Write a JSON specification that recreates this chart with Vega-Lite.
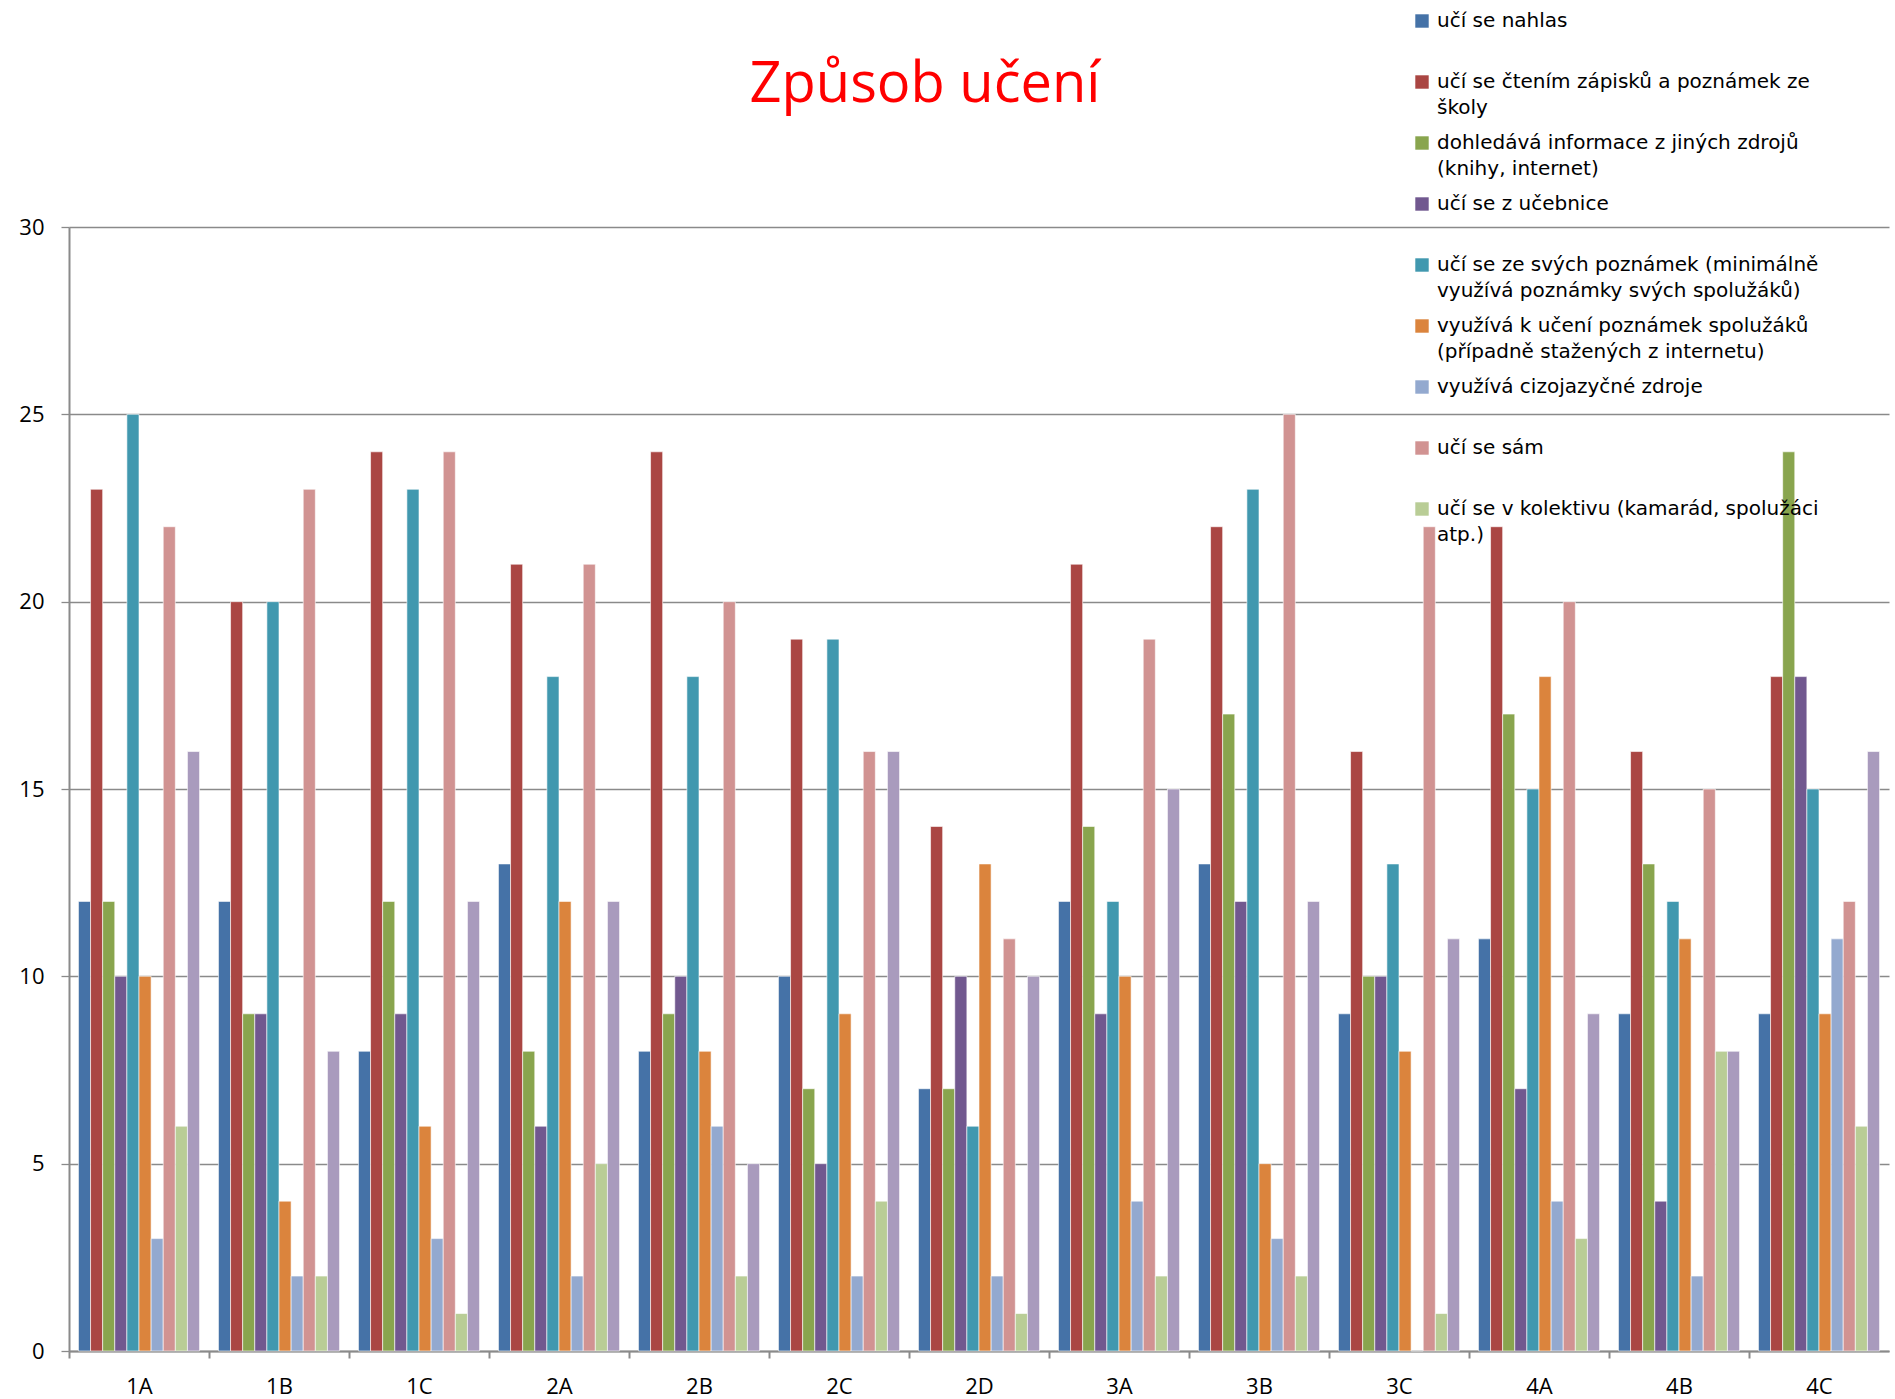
{
  "$schema": "https://vega.github.io/schema/vega-lite/v6.json",
  "width": 1820,
  "height": 1124,
  "autosize": {"type": "none"},
  "padding": {"left": 69, "top": 227, "right": 6, "bottom": 48},
  "background": "white",
  "title": {"text": "Způsob učení", "color": "#ff0000", "font": "Open Sans", "fontSize": 56, "fontWeight": "normal", "anchor": "middle", "frame": "group", "baseline": "alphabetic", "dx": -54, "offset": 0, "dy": 147},
  "data": {"values": [
    {"c": "1A", "s": "učí se nahlas", "v": 12}, {"c": "1A", "s": "učí se čtením zápisků a poznámek ze školy", "v": 23}, {"c": "1A", "s": "dohledává informace z jiných zdrojů (knihy, internet)", "v": 12}, {"c": "1A", "s": "učí se z učebnice", "v": 10}, {"c": "1A", "s": "učí se ze svých poznámek (minimálně využívá poznámky svých spolužáků)", "v": 25}, {"c": "1A", "s": "využívá k učení poznámek spolužáků (případně stažených z internetu)", "v": 10}, {"c": "1A", "s": "využívá cizojazyčné zdroje", "v": 3}, {"c": "1A", "s": "učí se sám", "v": 22}, {"c": "1A", "s": "učí se v kolektivu (kamarád, spolužáci atp.)", "v": 6}, {"c": "1A", "s": "ostatní", "v": 16},
    {"c": "1B", "s": "učí se nahlas", "v": 12}, {"c": "1B", "s": "učí se čtením zápisků a poznámek ze školy", "v": 20}, {"c": "1B", "s": "dohledává informace z jiných zdrojů (knihy, internet)", "v": 9}, {"c": "1B", "s": "učí se z učebnice", "v": 9}, {"c": "1B", "s": "učí se ze svých poznámek (minimálně využívá poznámky svých spolužáků)", "v": 20}, {"c": "1B", "s": "využívá k učení poznámek spolužáků (případně stažených z internetu)", "v": 4}, {"c": "1B", "s": "využívá cizojazyčné zdroje", "v": 2}, {"c": "1B", "s": "učí se sám", "v": 23}, {"c": "1B", "s": "učí se v kolektivu (kamarád, spolužáci atp.)", "v": 2}, {"c": "1B", "s": "ostatní", "v": 8},
    {"c": "1C", "s": "učí se nahlas", "v": 8}, {"c": "1C", "s": "učí se čtením zápisků a poznámek ze školy", "v": 24}, {"c": "1C", "s": "dohledává informace z jiných zdrojů (knihy, internet)", "v": 12}, {"c": "1C", "s": "učí se z učebnice", "v": 9}, {"c": "1C", "s": "učí se ze svých poznámek (minimálně využívá poznámky svých spolužáků)", "v": 23}, {"c": "1C", "s": "využívá k učení poznámek spolužáků (případně stažených z internetu)", "v": 6}, {"c": "1C", "s": "využívá cizojazyčné zdroje", "v": 3}, {"c": "1C", "s": "učí se sám", "v": 24}, {"c": "1C", "s": "učí se v kolektivu (kamarád, spolužáci atp.)", "v": 1}, {"c": "1C", "s": "ostatní", "v": 12},
    {"c": "2A", "s": "učí se nahlas", "v": 13}, {"c": "2A", "s": "učí se čtením zápisků a poznámek ze školy", "v": 21}, {"c": "2A", "s": "dohledává informace z jiných zdrojů (knihy, internet)", "v": 8}, {"c": "2A", "s": "učí se z učebnice", "v": 6}, {"c": "2A", "s": "učí se ze svých poznámek (minimálně využívá poznámky svých spolužáků)", "v": 18}, {"c": "2A", "s": "využívá k učení poznámek spolužáků (případně stažených z internetu)", "v": 12}, {"c": "2A", "s": "využívá cizojazyčné zdroje", "v": 2}, {"c": "2A", "s": "učí se sám", "v": 21}, {"c": "2A", "s": "učí se v kolektivu (kamarád, spolužáci atp.)", "v": 5}, {"c": "2A", "s": "ostatní", "v": 12},
    {"c": "2B", "s": "učí se nahlas", "v": 8}, {"c": "2B", "s": "učí se čtením zápisků a poznámek ze školy", "v": 24}, {"c": "2B", "s": "dohledává informace z jiných zdrojů (knihy, internet)", "v": 9}, {"c": "2B", "s": "učí se z učebnice", "v": 10}, {"c": "2B", "s": "učí se ze svých poznámek (minimálně využívá poznámky svých spolužáků)", "v": 18}, {"c": "2B", "s": "využívá k učení poznámek spolužáků (případně stažených z internetu)", "v": 8}, {"c": "2B", "s": "využívá cizojazyčné zdroje", "v": 6}, {"c": "2B", "s": "učí se sám", "v": 20}, {"c": "2B", "s": "učí se v kolektivu (kamarád, spolužáci atp.)", "v": 2}, {"c": "2B", "s": "ostatní", "v": 5},
    {"c": "2C", "s": "učí se nahlas", "v": 10}, {"c": "2C", "s": "učí se čtením zápisků a poznámek ze školy", "v": 19}, {"c": "2C", "s": "dohledává informace z jiných zdrojů (knihy, internet)", "v": 7}, {"c": "2C", "s": "učí se z učebnice", "v": 5}, {"c": "2C", "s": "učí se ze svých poznámek (minimálně využívá poznámky svých spolužáků)", "v": 19}, {"c": "2C", "s": "využívá k učení poznámek spolužáků (případně stažených z internetu)", "v": 9}, {"c": "2C", "s": "využívá cizojazyčné zdroje", "v": 2}, {"c": "2C", "s": "učí se sám", "v": 16}, {"c": "2C", "s": "učí se v kolektivu (kamarád, spolužáci atp.)", "v": 4}, {"c": "2C", "s": "ostatní", "v": 16},
    {"c": "2D", "s": "učí se nahlas", "v": 7}, {"c": "2D", "s": "učí se čtením zápisků a poznámek ze školy", "v": 14}, {"c": "2D", "s": "dohledává informace z jiných zdrojů (knihy, internet)", "v": 7}, {"c": "2D", "s": "učí se z učebnice", "v": 10}, {"c": "2D", "s": "učí se ze svých poznámek (minimálně využívá poznámky svých spolužáků)", "v": 6}, {"c": "2D", "s": "využívá k učení poznámek spolužáků (případně stažených z internetu)", "v": 13}, {"c": "2D", "s": "využívá cizojazyčné zdroje", "v": 2}, {"c": "2D", "s": "učí se sám", "v": 11}, {"c": "2D", "s": "učí se v kolektivu (kamarád, spolužáci atp.)", "v": 1}, {"c": "2D", "s": "ostatní", "v": 10},
    {"c": "3A", "s": "učí se nahlas", "v": 12}, {"c": "3A", "s": "učí se čtením zápisků a poznámek ze školy", "v": 21}, {"c": "3A", "s": "dohledává informace z jiných zdrojů (knihy, internet)", "v": 14}, {"c": "3A", "s": "učí se z učebnice", "v": 9}, {"c": "3A", "s": "učí se ze svých poznámek (minimálně využívá poznámky svých spolužáků)", "v": 12}, {"c": "3A", "s": "využívá k učení poznámek spolužáků (případně stažených z internetu)", "v": 10}, {"c": "3A", "s": "využívá cizojazyčné zdroje", "v": 4}, {"c": "3A", "s": "učí se sám", "v": 19}, {"c": "3A", "s": "učí se v kolektivu (kamarád, spolužáci atp.)", "v": 2}, {"c": "3A", "s": "ostatní", "v": 15},
    {"c": "3B", "s": "učí se nahlas", "v": 13}, {"c": "3B", "s": "učí se čtením zápisků a poznámek ze školy", "v": 22}, {"c": "3B", "s": "dohledává informace z jiných zdrojů (knihy, internet)", "v": 17}, {"c": "3B", "s": "učí se z učebnice", "v": 12}, {"c": "3B", "s": "učí se ze svých poznámek (minimálně využívá poznámky svých spolužáků)", "v": 23}, {"c": "3B", "s": "využívá k učení poznámek spolužáků (případně stažených z internetu)", "v": 5}, {"c": "3B", "s": "využívá cizojazyčné zdroje", "v": 3}, {"c": "3B", "s": "učí se sám", "v": 25}, {"c": "3B", "s": "učí se v kolektivu (kamarád, spolužáci atp.)", "v": 2}, {"c": "3B", "s": "ostatní", "v": 12},
    {"c": "3C", "s": "učí se nahlas", "v": 9}, {"c": "3C", "s": "učí se čtením zápisků a poznámek ze školy", "v": 16}, {"c": "3C", "s": "dohledává informace z jiných zdrojů (knihy, internet)", "v": 10}, {"c": "3C", "s": "učí se z učebnice", "v": 10}, {"c": "3C", "s": "učí se ze svých poznámek (minimálně využívá poznámky svých spolužáků)", "v": 13}, {"c": "3C", "s": "využívá k učení poznámek spolužáků (případně stažených z internetu)", "v": 8}, {"c": "3C", "s": "využívá cizojazyčné zdroje", "v": 0}, {"c": "3C", "s": "učí se sám", "v": 22}, {"c": "3C", "s": "učí se v kolektivu (kamarád, spolužáci atp.)", "v": 1}, {"c": "3C", "s": "ostatní", "v": 11},
    {"c": "4A", "s": "učí se nahlas", "v": 11}, {"c": "4A", "s": "učí se čtením zápisků a poznámek ze školy", "v": 22}, {"c": "4A", "s": "dohledává informace z jiných zdrojů (knihy, internet)", "v": 17}, {"c": "4A", "s": "učí se z učebnice", "v": 7}, {"c": "4A", "s": "učí se ze svých poznámek (minimálně využívá poznámky svých spolužáků)", "v": 15}, {"c": "4A", "s": "využívá k učení poznámek spolužáků (případně stažených z internetu)", "v": 18}, {"c": "4A", "s": "využívá cizojazyčné zdroje", "v": 4}, {"c": "4A", "s": "učí se sám", "v": 20}, {"c": "4A", "s": "učí se v kolektivu (kamarád, spolužáci atp.)", "v": 3}, {"c": "4A", "s": "ostatní", "v": 9},
    {"c": "4B", "s": "učí se nahlas", "v": 9}, {"c": "4B", "s": "učí se čtením zápisků a poznámek ze školy", "v": 16}, {"c": "4B", "s": "dohledává informace z jiných zdrojů (knihy, internet)", "v": 13}, {"c": "4B", "s": "učí se z učebnice", "v": 4}, {"c": "4B", "s": "učí se ze svých poznámek (minimálně využívá poznámky svých spolužáků)", "v": 12}, {"c": "4B", "s": "využívá k učení poznámek spolužáků (případně stažených z internetu)", "v": 11}, {"c": "4B", "s": "využívá cizojazyčné zdroje", "v": 2}, {"c": "4B", "s": "učí se sám", "v": 15}, {"c": "4B", "s": "učí se v kolektivu (kamarád, spolužáci atp.)", "v": 8}, {"c": "4B", "s": "ostatní", "v": 8},
    {"c": "4C", "s": "učí se nahlas", "v": 9}, {"c": "4C", "s": "učí se čtením zápisků a poznámek ze školy", "v": 18}, {"c": "4C", "s": "dohledává informace z jiných zdrojů (knihy, internet)", "v": 24}, {"c": "4C", "s": "učí se z učebnice", "v": 18}, {"c": "4C", "s": "učí se ze svých poznámek (minimálně využívá poznámky svých spolužáků)", "v": 15}, {"c": "4C", "s": "využívá k učení poznámek spolužáků (případně stažených z internetu)", "v": 9}, {"c": "4C", "s": "využívá cizojazyčné zdroje", "v": 11}, {"c": "4C", "s": "učí se sám", "v": 12}, {"c": "4C", "s": "učí se v kolektivu (kamarád, spolužáci atp.)", "v": 6}, {"c": "4C", "s": "ostatní", "v": 16}
  ]},
  "mark": {"type": "bar", "stroke": "#ffffff", "strokeWidth": 0.6},
  "encoding": {
    "x": {
      "field": "c", "type": "nominal", "sort": null, "title": null,
      "scale": {"paddingInner": 0.135, "paddingOuter": 0.0675},
      "axis": {"labelAngle": 0, "domainColor": "#8a8a8a", "domainWidth": 2, "tickColor": "#8a8a8a", "tickWidth": 2, "tickSize": 7, "bandPosition": 0, "tickOffset": -9.5, "labelOffset": 9.5, "labelFont": "Open Sans", "labelFontSize": 22, "labelColor": "#000000", "labelPadding": 18}
    },
    "xOffset": {
      "field": "s", "type": "nominal",
      "scale": {"paddingInner": 0, "paddingOuter": 0, "domain": ["učí se nahlas", "učí se čtením zápisků a poznámek ze školy", "dohledává informace z jiných zdrojů (knihy, internet)", "učí se z učebnice", "učí se ze svých poznámek (minimálně využívá poznámky svých spolužáků)", "využívá k učení poznámek spolužáků (případně stažených z internetu)", "využívá cizojazyčné zdroje", "učí se sám", "učí se v kolektivu (kamarád, spolužáci atp.)", "ostatní"]}
    },
    "y": {
      "field": "v", "type": "quantitative", "title": null,
      "scale": {"domain": [0, 30], "nice": false},
      "axis": {"values": [0, 5, 10, 15, 20, 25, 30], "grid": true, "gridColor": "#8a8a8a", "gridWidth": 1.3, "domainColor": "#8a8a8a", "domainWidth": 2, "tickColor": "#8a8a8a", "tickWidth": 1.3, "tickSize": 8, "labelFont": "Open Sans", "labelFontSize": 22, "labelColor": "#000000", "labelPadding": 17}
    },
    "color": {
      "field": "s", "type": "nominal",
      "scale": {
        "domain": ["učí se nahlas", "učí se čtením zápisků a poznámek ze školy", "dohledává informace z jiných zdrojů (knihy, internet)", "učí se z učebnice", "učí se ze svých poznámek (minimálně využívá poznámky svých spolužáků)", "využívá k učení poznámek spolužáků (případně stažených z internetu)", "využívá cizojazyčné zdroje", "učí se sám", "učí se v kolektivu (kamarád, spolužáci atp.)", "ostatní"],
        "range": ["#4572A7", "#AA4643", "#89A54E", "#71588F", "#4198AF", "#DB843D", "#93A9CF", "#D19392", "#B9CD96", "#A99BBD"]
      },
      "legend": {
        "orient": "none", "legendX": 1343, "legendY": -216, "title": null, "padding": 0,
        "values": ["učí se nahlas", "učí se čtením zápisků a poznámek ze školy", "dohledává informace z jiných zdrojů (knihy, internet)", "učí se z učebnice", "učí se ze svých poznámek (minimálně využívá poznámky svých spolužáků)", "využívá k učení poznámek spolužáků (případně stažených z internetu)", "využívá cizojazyčné zdroje", "učí se sám", "učí se v kolektivu (kamarád, spolužáci atp.)"],
        "symbolType": "square", "symbolSize": 180, "symbolStrokeWidth": 0,
        "labelFont": "DejaVu Sans", "labelFontSize": 20, "labelColor": "#000000", "labelLimit": 700, "labelOffset": 5,
        "gridAlign": "all", "rowPadding": 15, "labelBaseline": "middle",
        "labelExpr": "datum.label == 'učí se čtením zápisků a poznámek ze školy' ? ['učí se čtením zápisků a poznámek ze', 'školy'] : datum.label == 'dohledává informace z jiných zdrojů (knihy, internet)' ? ['dohledává informace z jiných zdrojů', '(knihy, internet)'] : datum.label == 'učí se ze svých poznámek (minimálně využívá poznámky svých spolužáků)' ? ['učí se ze svých poznámek (minimálně', 'využívá poznámky svých spolužáků)'] : datum.label == 'využívá k učení poznámek spolužáků (případně stažených z internetu)' ? ['využívá k učení poznámek spolužáků', '(případně stažených z internetu)'] : datum.label == 'učí se v kolektivu (kamarád, spolužáci atp.)' ? ['učí se v kolektivu (kamarád, spolužáci', 'atp.)'] : datum.label"
      }
    }
  },
  "config": {"view": {"stroke": null}, "style": {"guide-label": {"lineHeight": 26}}}
}
